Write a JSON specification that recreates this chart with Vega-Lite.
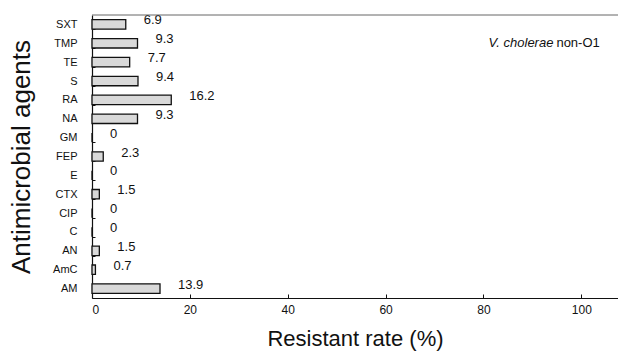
{
  "$schema": "https://vega.github.io/schema/vega-lite/v6.json",
  "autosize": "none",
  "width": 526,
  "height": 283,
  "padding": {"left": 92, "top": 15, "right": 0, "bottom": 59},
  "background": "white",
  "config": {
    "view": {"stroke": null},
    "font": "Liberation Sans",
    "axis": {"labelFont": "Liberation Sans", "titleFont": "Liberation Sans", "titleFontWeight": "normal", "labelColor": "#111", "titleColor": "#111", "domainColor": "#111", "tickColor": "#111"}
  },
  "data": {
    "values": [
      {"agent": "SXT", "rate": 6.9},
      {"agent": "TMP", "rate": 9.3},
      {"agent": "TE", "rate": 7.7},
      {"agent": "S", "rate": 9.4},
      {"agent": "RA", "rate": 16.2},
      {"agent": "NA", "rate": 9.3},
      {"agent": "GM", "rate": 0},
      {"agent": "FEP", "rate": 2.3},
      {"agent": "E", "rate": 0},
      {"agent": "CTX", "rate": 1.5},
      {"agent": "CIP", "rate": 0},
      {"agent": "C", "rate": 0},
      {"agent": "AN", "rate": 1.5},
      {"agent": "AmC", "rate": 0.7},
      {"agent": "AM", "rate": 13.9}
    ]
  },
  "encoding": {
    "y": {
      "field": "agent", "type": "nominal", "sort": null,
      "scale": {"paddingInner": 0.5, "paddingOuter": 0.25},
      "axis": {"title": "Antimicrobial agents", "titleFontSize": 26, "titlePadding": 18, "labelFontSize": 11, "labelPadding": 18, "tickSize": -3, "tickBand": "extent", "domainWidth": 1.2}
    }
  },
  "layer": [
    {
      "mark": {"type": "bar", "fill": "#d9d9d9", "stroke": "#111", "strokeWidth": 1.3},
      "encoding": {
        "x": {
          "field": "rate", "type": "quantitative",
          "scale": {"domain": [0, 107.5], "nice": false},
          "axis": {"title": "Resistant rate (%)", "titleFontSize": 22, "titlePadding": 13, "labelFontSize": 12, "labelPadding": 10, "values": [0, 20, 40, 60, 80, 100], "tickSize": -4, "grid": false, "domainWidth": 1.2}
        }
      }
    },
    {
      "mark": {"type": "text", "align": "left", "dx": 18, "dy": -4, "fontSize": 13, "color": "#111"},
      "encoding": {
        "x": {"field": "rate", "type": "quantitative"},
        "text": {"field": "rate", "type": "quantitative"}
      }
    },
    {
      "data": {"values": [{"note": "V. cholerae"}]},
      "mark": {"type": "text", "align": "right", "fontSize": 13, "fontStyle": "italic", "color": "#111"},
      "encoding": {"x": {"datum": 94.3, "type": "quantitative"}, "y": {"datum": "TMP"}, "text": {"field": "note"}}
    },
    {
      "data": {"values": [{"note": "non-O1"}]},
      "mark": {"type": "text", "align": "left", "dx": 3, "fontSize": 13, "color": "#111"},
      "encoding": {"x": {"datum": 94.3, "type": "quantitative"}, "y": {"datum": "TMP"}, "text": {"field": "note"}}
    },
    {
      "data": {"values": [{}]},
      "mark": {"type": "rule", "color": "#666", "strokeWidth": 1},
      "encoding": {"y": {"value": 0}, "x": {"value": 0}, "x2": {"value": 526}}
    }
  ]
}
